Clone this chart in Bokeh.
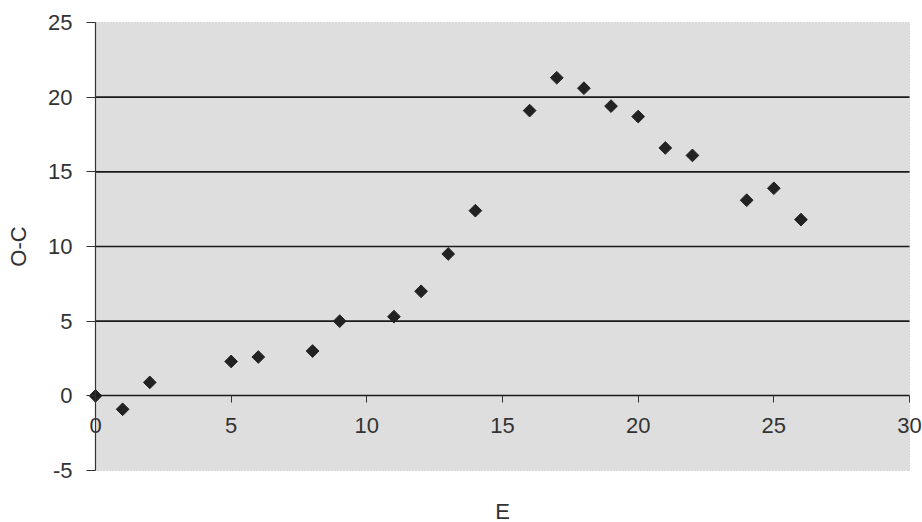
import math
from bokeh.plotting import figure
from bokeh.models import FixedTicker, Range1d, Label, LinearAxis, BoxAnnotation
from bokeh.embed import file_html
from bokeh.resources import INLINE

# data
E = [0, 1, 2, 5, 6, 8, 9, 11, 12, 13, 14, 16, 17, 18, 19, 20, 21, 22, 24, 25, 26]
OC = [0.0, -0.9, 0.9, 2.3, 2.6, 3.0, 5.0, 5.3, 7.0, 9.5, 12.4, 19.1, 21.3, 20.6,
      19.4, 18.7, 16.6, 16.1, 13.1, 13.9, 11.8]
x_ticks = [0, 5, 10, 15, 20, 25, 30]
x_tick_labels = ["0", "5", "10", "15", "20", "25", "30"]
y_ticks = [-5, 0, 5, 10, 15, 20, 25]
y_tick_labels = ["-5", "0", "5", "10", "15", "20", "25"]
grid_lines = [5, 10, 15, 20]
x_min, x_max = 0, 30
y_min, y_max = -5, 25

FONT = "Liberation Sans"
W, H = 922, 522
# plot area in pixels inside the canvas
PL, PR, PT, PB = 95, 909, 22, 470
xs = (x_max - x_min) / (PR - PL)
ys = (y_max - y_min) / (PB - PT)

p = figure(width=W, height=H, output_backend="svg", toolbar_location=None,
           x_range=Range1d(x_min - PL * xs, x_max + (W - PR) * xs),
           y_range=Range1d(y_min - (H - PB) * ys, y_max + PT * ys),
           x_axis_type=None, y_axis_type=None,
           min_border=0)
p.outline_line_color = None
p.background_fill_color = "white"
p.border_fill_color = "white"
p.grid.visible = False

# plot area
p.add_layout(BoxAnnotation(left=x_min, right=x_max, bottom=y_min, top=y_max,
                           fill_color="#dedede", fill_alpha=1.0,
                           line_color="#555555", line_dash="1 2",
                           line_width=1, level="underlay"))

# horizontal grid lines, limited to the plot area
p.segment(x0=[x_min] * len(grid_lines), x1=[x_max] * len(grid_lines),
          y0=grid_lines, y1=grid_lines, line_color="#1a1a1a", line_width=1.6)

# x axis at y = 0
xa = LinearAxis(fixed_location=0, bounds=(x_min, x_max),
                ticker=FixedTicker(ticks=x_ticks))
xa.axis_line_color = "#1a1a1a"
xa.axis_line_width = 1.6
xa.major_tick_out = 7
xa.major_tick_in = 0
xa.major_tick_line_color = "#333333"
xa.minor_tick_line_color = None
xa.major_label_text_alpha = 0
p.add_layout(xa, "below")

for xv, lab in zip(x_ticks, x_tick_labels):
    p.add_layout(Label(x=xv, y=0, text=lab, y_offset=-22,
                       text_align="center", text_baseline="top",
                       text_font=FONT, text_font_size="22px",
                       text_color="#333333"))

# y axis at x = 0
ya = LinearAxis(fixed_location=x_min, bounds=(y_min, y_max),
                ticker=FixedTicker(ticks=y_ticks))
ya.major_label_overrides = {t: s for t, s in zip(y_ticks, y_tick_labels)}
ya.axis_line_color = "#333333"
ya.axis_line_width = 1.2
ya.major_tick_out = 9
ya.major_tick_in = 0
ya.major_tick_line_color = "#333333"
ya.minor_tick_line_color = None
ya.major_label_standoff = 14
ya.major_label_text_font = FONT
ya.major_label_text_font_size = "22px"
ya.major_label_text_color = "#333333"
ya.axis_label = "O-C"
ya.axis_label_text_font = FONT
ya.axis_label_text_font_size = "22px"
ya.axis_label_text_font_style = "normal"
ya.axis_label_text_color = "#333333"
ya.axis_label_standoff = 14
p.add_layout(ya, "left")

# x axis title
p.add_layout(Label(x=(x_min + x_max) / 2, y=y_min, text="E", y_offset=-28,
                   text_align="center", text_baseline="top",
                   text_font=FONT, text_font_size="22px",
                   text_color="#333333"))

p.scatter(E, OC, marker="square", size=9, angle=math.pi / 4,
          fill_color="#222222", line_color="#222222")

open("out.html", "w").write(file_html(p, INLINE))
